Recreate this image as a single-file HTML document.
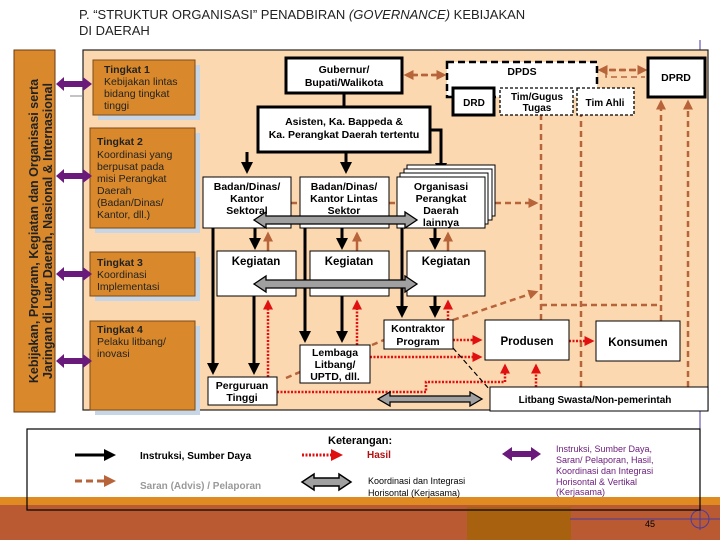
<!DOCTYPE html>
<html><head><meta charset="utf-8"><style>
html,body{margin:0;padding:0;background:#fff}
svg{display:block;font-family:"Liberation Sans",Arial,sans-serif}
</style></head><body>
<svg width="720" height="540" viewBox="0 0 720 540" xmlns="http://www.w3.org/2000/svg">
<defs>
<marker id="ab" markerWidth="4" markerHeight="4" refX="3" refY="2" orient="auto" markerUnits="strokeWidth"><path d="M0,0 L4,2 L0,4Z" fill="#000"/></marker>
<marker id="abr" markerWidth="4" markerHeight="4" refX="3" refY="2" orient="auto" markerUnits="strokeWidth"><path d="M0,0 L4,2 L0,4Z" fill="#b8643a"/></marker>
<marker id="ar" markerWidth="4" markerHeight="4" refX="3" refY="2" orient="auto" markerUnits="strokeWidth"><path d="M0,0 L4,2 L0,4Z" fill="#e01010"/></marker>
</defs>
<rect x="0" y="0" width="720" height="540" fill="#fff"/>
<text x="79" y="19" font-size="13" fill="#222">P. “STRUKTUR ORGANISASI” PENADBIRAN <tspan font-style="italic">(GOVERNANCE)</tspan> KEBIJAKAN</text>
<text x="79" y="35" font-size="13" fill="#222">DI DAERAH</text>

<rect x="0" y="497" width="720" height="9" fill="#e08a22"/>
<rect x="0" y="505" width="720" height="35" fill="#b95a33"/>
<rect x="467" y="507" width="104" height="33" fill="#a8620f"/>
<line x1="700" y1="40" x2="700" y2="530" stroke="#4a3aa0" stroke-width="1"/>
<line x1="570" y1="519" x2="720" y2="519" stroke="#4a3aa0" stroke-width="1"/>
<circle cx="700" cy="519" r="9" fill="none" stroke="#4a3aa0"/>
<text x="645" y="527" font-size="9" fill="#000">45</text>

<rect x="14" y="50" width="41" height="362" fill="#d9892b" stroke="#6a3a10"/>
<text transform="translate(38,231) rotate(-90)" text-anchor="middle" font-size="12.5" font-weight="bold" fill="#222">Kebijakan, Program, Kegiatan dan Organisasi  serta</text>
<text transform="translate(52,231) rotate(-90)" text-anchor="middle" font-size="12.5" font-weight="bold" fill="#222">Jaringan di Luar Daerah, Nasional &amp; Internasional</text>

<rect x="83" y="50" width="625" height="360" fill="#fcd8b0" stroke="#222" stroke-width="1.2"/>
<line x1="70" y1="96" x2="83" y2="96" stroke="#888"/>

<g font-size="10.5" fill="#222">
<rect x="98" y="65" width="102" height="55" fill="#c6d6e6"/>
<rect x="93" y="60" width="102" height="55" fill="#d9892b" stroke="#7a4a1a"/>
<text x="104" y="73" font-weight="bold">Tingkat 1</text>
<text x="104" y="85">Kebijakan lintas</text><text x="104" y="97">bidang tingkat</text><text x="104" y="109">tinggi</text>

<rect x="95" y="133" width="105" height="100" fill="#c6d6e6"/>
<rect x="90" y="128" width="105" height="100" fill="#d9892b" stroke="#7a4a1a"/>
<text x="97" y="145" font-weight="bold">Tingkat 2</text>
<text x="97" y="158">Koordinasi yang</text><text x="97" y="170">berpusat pada</text><text x="97" y="182">misi Perangkat</text><text x="97" y="194">Daerah</text><text x="97" y="206">(Badan/Dinas/</text><text x="97" y="218">Kantor, dll.)</text>

<rect x="95" y="257" width="105" height="44" fill="#c6d6e6"/>
<rect x="90" y="252" width="105" height="44" fill="#d9892b" stroke="#7a4a1a"/>
<text x="97" y="266" font-weight="bold">Tingkat 3</text>
<text x="97" y="278">Koordinasi</text><text x="97" y="290">Implementasi</text>

<rect x="95" y="326" width="105" height="89" fill="#c6d6e6"/>
<rect x="90" y="321" width="105" height="89" fill="#d9892b" stroke="#7a4a1a"/>
<text x="97" y="333" font-weight="bold">Tingkat 4</text>
<text x="97" y="345">Pelaku litbang/</text><text x="97" y="357">inovasi</text>
</g>

<g fill="#6a1a7a">
<path d="M56,84 L64,77 L64,81 L83,81 L83,77 L92,84 L83,91 L83,87 L64,87 L64,91Z"/>
<path d="M56,176 L64,169 L64,173 L83,173 L83,169 L92,176 L83,183 L83,179 L64,179 L64,183Z"/>
<path d="M56,274 L64,267 L64,271 L83,271 L83,267 L92,274 L83,281 L83,277 L64,277 L64,281Z"/>
<path d="M56,361 L64,354 L64,358 L83,358 L83,354 L92,361 L83,368 L83,364 L64,364 L64,368Z"/>
</g>

<g stroke="#b8643a" stroke-width="2.5" stroke-dasharray="6,4" fill="none">
<line x1="412" y1="75" x2="444" y2="75" marker-end="url(#abr)"/>
<line x1="437" y1="75" x2="406" y2="75" marker-end="url(#abr)"/>
<line x1="610" y1="70" x2="645" y2="70" marker-end="url(#abr)"/>
<line x1="635" y1="70" x2="600" y2="70" marker-end="url(#abr)"/>
<polyline points="606,72 606,77 645,77" stroke-width="1.5"/>
<line x1="541" y1="320" x2="541" y2="102" marker-end="url(#abr)"/>
<line x1="581" y1="387" x2="581" y2="102" marker-end="url(#abr)"/>
<line x1="661" y1="321" x2="661" y2="102" marker-end="url(#abr)"/>
<line x1="688" y1="387" x2="688" y2="102" marker-end="url(#abr)"/>
<line x1="541" y1="305" x2="661" y2="305"/>
<line x1="485" y1="203" x2="536" y2="203" marker-end="url(#abr)"/>
<line x1="453" y1="320" x2="536" y2="292" marker-end="url(#abr)"/>
<line x1="372" y1="345" x2="384" y2="340"/>
<line x1="286" y1="378" x2="300" y2="372"/>
<line x1="291" y1="203" x2="300" y2="203"/>
<line x1="389" y1="203" x2="397" y2="203"/>
</g>
<g stroke="#b8643a" stroke-width="2.5" fill="none">
<line x1="268" y1="251" x2="268" y2="234" marker-end="url(#abr)"/>
<line x1="357" y1="251" x2="357" y2="234" marker-end="url(#abr)"/>
<line x1="448" y1="251" x2="448" y2="234" marker-end="url(#abr)"/>
</g>

<g stroke="#e01010" stroke-width="2.5" stroke-dasharray="2,1.5" fill="none">
<line x1="268" y1="377" x2="268" y2="302" marker-end="url(#ar)"/>
<line x1="357" y1="345" x2="357" y2="302" marker-end="url(#ar)"/>
<line x1="448" y1="320" x2="448" y2="302" marker-end="url(#ar)"/>
<line x1="453" y1="340" x2="480" y2="340" marker-end="url(#ar)"/>
<line x1="370" y1="357" x2="480" y2="357" marker-end="url(#ar)"/>
<line x1="569" y1="341" x2="592" y2="341" marker-end="url(#ar)"/>
<polyline points="277,392 426,392 426,382 505,382 505,366" marker-end="url(#ar)"/>
<line x1="536" y1="387" x2="536" y2="366" marker-end="url(#ar)"/>
</g>
<line x1="453" y1="348" x2="490" y2="390" stroke="#000" stroke-width="1.2" stroke-dasharray="5,3"/>

<g stroke="#000" stroke-width="3" fill="none">
<line x1="344" y1="93" x2="344" y2="107"/>
<line x1="247" y1="152" x2="247" y2="171" marker-end="url(#ab)"/>
<line x1="346" y1="152" x2="346" y2="171" marker-end="url(#ab)"/>
<polyline points="430,130 441,130 441,172" marker-end="url(#ab)"/>
<line x1="213" y1="228" x2="213" y2="372" marker-end="url(#ab)"/>
<line x1="255" y1="228" x2="255" y2="247" marker-end="url(#ab)"/>
<line x1="254" y1="296" x2="254" y2="372" marker-end="url(#ab)"/>
<line x1="305" y1="228" x2="305" y2="340" marker-end="url(#ab)"/>
<line x1="342" y1="228" x2="342" y2="247" marker-end="url(#ab)"/>
<line x1="342" y1="296" x2="342" y2="340" marker-end="url(#ab)"/>
<line x1="402" y1="228" x2="402" y2="315" marker-end="url(#ab)"/>
<line x1="435" y1="228" x2="435" y2="247" marker-end="url(#ab)"/>
<line x1="435" y1="296" x2="435" y2="315" marker-end="url(#ab)"/>
</g>

<g font-size="10.5" font-weight="bold" fill="#000" text-anchor="middle">
<rect x="286" y="58" width="116" height="35" fill="#fff" stroke="#000" stroke-width="3"/>
<text x="344" y="73">Gubernur/</text><text x="344" y="86">Bupati/Walikota</text>
<rect x="258" y="107" width="172" height="45" fill="#fff" stroke="#000" stroke-width="3"/>
<text x="344" y="125">Asisten, Ka. Bappeda &amp;</text><text x="344" y="138">Ka. Perangkat Daerah tertentu</text>

<rect x="447" y="62" width="150" height="35" fill="#fff" stroke="#000" stroke-width="2.5" stroke-dasharray="7,4"/>
<text x="522" y="75">DPDS</text>
<rect x="453" y="88" width="41" height="27" fill="#fff" stroke="#000" stroke-width="3"/>
<text x="474" y="106" font-size="10">DRD</text>
<rect x="500" y="88" width="73" height="27" fill="#fff" stroke="#000" stroke-width="1.3" stroke-dasharray="3,2"/>
<text x="537" y="100" font-size="10">Tim/Gugus</text><text x="537" y="111" font-size="10">Tugas</text>
<rect x="577" y="88" width="57" height="27" fill="#fff" stroke="#000" stroke-width="1.3" stroke-dasharray="3,2"/>
<text x="605" y="106" font-size="10">Tim Ahli</text>
<rect x="648" y="58" width="57" height="39" fill="#fff" stroke="#000" stroke-width="3"/>
<text x="676" y="81">DPRD</text>

<rect x="203" y="177" width="88" height="51" fill="#fff" stroke="#000"/>
<text x="247" y="190">Badan/Dinas/</text><text x="247" y="202">Kantor</text><text x="247" y="214">Sektoral</text>
<rect x="300" y="177" width="89" height="51" fill="#fff" stroke="#000"/>
<text x="344" y="190">Badan/Dinas/</text><text x="344" y="202">Kantor Lintas</text><text x="344" y="214">Sektor</text>
<rect x="407" y="165" width="88" height="51" fill="#fff" stroke="#000"/>
<rect x="404" y="169" width="88" height="51" fill="#fff" stroke="#000"/>
<rect x="400" y="173" width="88" height="51" fill="#fff" stroke="#000"/>
<rect x="397" y="177" width="88" height="51" fill="#fff" stroke="#000"/>
<text x="441" y="190">Organisasi</text><text x="441" y="202">Perangkat</text><text x="441" y="214">Daerah</text><text x="441" y="226">lainnya</text>

<rect x="217" y="251" width="79" height="45" fill="#fff" stroke="#000"/>
<text x="256" y="265" font-size="11.5">Kegiatan</text>
<rect x="310" y="251" width="79" height="45" fill="#fff" stroke="#000"/>
<text x="349" y="265" font-size="11.5">Kegiatan</text>
<rect x="407" y="251" width="78" height="45" fill="#fff" stroke="#000"/>
<text x="446" y="265" font-size="11.5">Kegiatan</text>

<rect x="384" y="320" width="69" height="29" fill="#fff" stroke="#000"/>
<text x="418" y="332">Kontraktor</text><text x="418" y="345">Program</text>
<rect x="300" y="345" width="70" height="38" fill="#fff" stroke="#000"/>
<text x="335" y="356">Lembaga</text><text x="335" y="368">Litbang/</text><text x="335" y="380">UPTD, dll.</text>
<rect x="208" y="377" width="69" height="28" fill="#fff" stroke="#000"/>
<text x="242" y="389">Perguruan</text><text x="242" y="401">Tinggi</text>
<rect x="485" y="320" width="84" height="40" fill="#fff" stroke="#000"/>
<text x="527" y="345" font-size="11.5">Produsen</text>
<rect x="596" y="321" width="84" height="40" fill="#fff" stroke="#000"/>
<text x="638" y="346" font-size="11.5">Konsumen</text>
<rect x="490" y="387" width="218" height="24" fill="#fff" stroke="#000"/>
<text x="595" y="403" font-size="10">Litbang Swasta/Non-pemerintah</text>
</g>

<g fill="#a0a0a0" stroke="#000" stroke-width="1.3">
<path d="M254,220 L266,212 L266,216 L405,216 L405,212 L417,220 L405,228 L405,224 L266,224 L266,228Z"/>
<path d="M254,284 L266,276 L266,280 L405,280 L405,276 L417,284 L405,292 L405,288 L266,288 L266,292Z"/>
<path d="M378,399 L390,392 L390,396 L470,396 L470,392 L482,399 L470,406 L470,402 L390,402 L390,406Z"/>
</g>

<rect x="27" y="429" width="673" height="81" fill="none" stroke="#000" stroke-width="1.2"/>
<text x="328" y="444" font-size="11" font-weight="bold" fill="#000">Keterangan:</text>
<line x1="75" y1="455" x2="113" y2="455" stroke="#000" stroke-width="3" marker-end="url(#ab)"/>
<text x="140" y="459" font-size="10" font-weight="bold" fill="#000">Instruksi, Sumber Daya</text>
<line x1="75" y1="481" x2="113" y2="481" stroke="#b8643a" stroke-width="3" stroke-dasharray="7,4" marker-end="url(#abr)"/>
<text x="140" y="489" font-size="10" font-weight="bold" fill="#999">Saran (Advis) / Pelaporan</text>
<line x1="302" y1="455" x2="340" y2="455" stroke="#e01010" stroke-width="3" stroke-dasharray="2,1.5" marker-end="url(#ar)"/>
<text x="367" y="458" font-size="10" font-weight="bold" fill="#b01010">Hasil</text>
<path d="M302,482 L314,474 L314,478 L339,478 L339,474 L351,482 L339,490 L339,486 L314,486 L314,490Z" fill="#a0a0a0" stroke="#000" stroke-width="1.5"/>
<text x="368" y="484" font-size="9" fill="#000">Koordinasi dan Integrasi</text>
<text x="368" y="496" font-size="9" fill="#000">Horisontal (Kerjasama)</text>
<path d="M502,454 L512,447 L512,451 L531,451 L531,447 L541,454 L531,461 L531,457 L512,457 L512,461Z" fill="#6a1a7a"/>
<text x="556" y="452" font-size="9" fill="#6a1a7a">Instruksi, Sumber Daya,</text>
<text x="556" y="463" font-size="9" fill="#6a1a7a">Saran/ Pelaporan, Hasil,</text>
<text x="556" y="474" font-size="9" fill="#6a1a7a">Koordinasi dan Integrasi</text>
<text x="556" y="485" font-size="9" fill="#6a1a7a">Horisontal &amp; Vertikal</text>
<text x="556" y="495" font-size="9" fill="#6a1a7a">(Kerjasama)</text>
</svg>
</body></html>
